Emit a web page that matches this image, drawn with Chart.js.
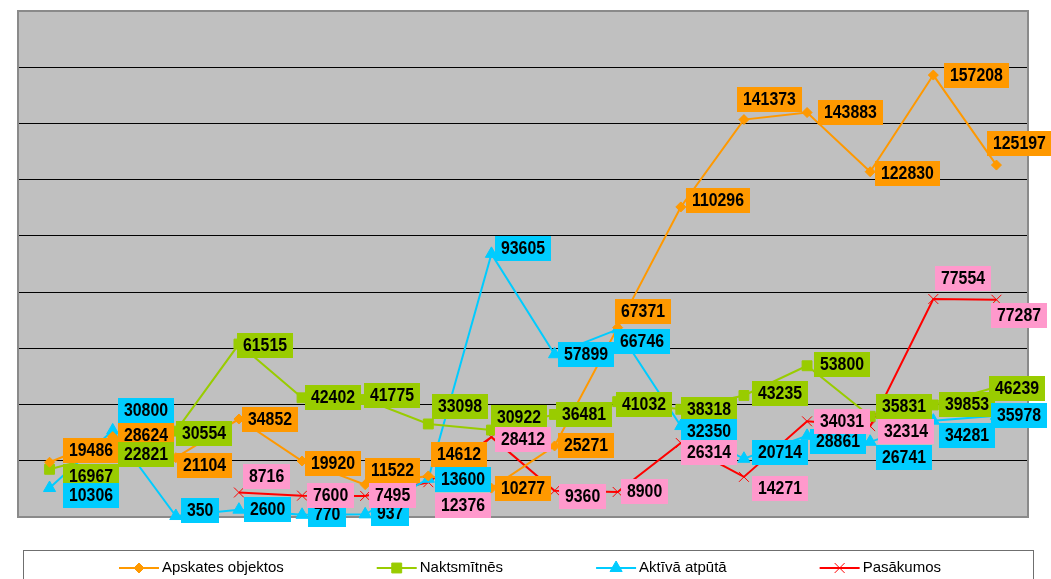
<!DOCTYPE html>
<html>
<head>
<meta charset="utf-8">
<script src="https://cdn.jsdelivr.net/npm/chart.js@4.4.1/dist/chart.umd.min.js"></script>
<style>
  html, body { margin: 0; padding: 0; background: #fff; overflow: hidden; }
</style>
</head>
<body>
<canvas id="chart" width="1051" height="579"></canvas>
<script>
// categories are not printed on the original chart
const periods = ["1", "2", "3", "4", "5", "6", "7", "8", "9", "10", "11", "12", "13", "14", "15", "16"];

const apskates = [19486, 28624, 21104, 34852, 19920, 11522, 14612, 10277, 25271, 67371, 110296, 141373, 143883, 122830, 157208, 125197];
const naktsmitnes = [16967, 22821, 30554, 61515, 42402, 41775, 33098, 30922, 36481, 41032, 38318, 43235, 53800, 35831, 39853, 46239];
const aktiva = [10306, 30800, 350, 2600, 770, 937, 13600, 93605, 57899, 66746, 32350, 20714, 28861, 26741, 34281, 35978];
const pasakumos = [null, null, null, 8716, 7600, 7495, 12376, 28412, 9360, 8900, 26314, 14271, 34031, 32314, 77554, 77287];

const seriesNames = ["Apskates objektos", "Naktsmītnēs", "Aktīvā atpūtā", "Pasākumos"];

// label box colours and hand-placed label nudges [dx from point, dy of box centre]
const labelColors = ["#FF9900", "#99CC00", "#00CCFF", "#FF99CC"];
const labelNudge = [
  [[13,-12],[5,-1],[1,8],[3,0],[3,2],[0,-14],[3,-21],[4,0],[3,0],[-3,-16],[5,-6],[-7,-20],[11,0],[5,2],[11,0],[-9,-22]],
  [[13,7],[5,2],[0,2],[-2,1],[3,0],[-1,-4],[4,-17],[0,-13],[1,0],[-2,3],[0,0],[8,-2],[7,-1],[6,-10],[6,0],[-7,1]],
  [[13,7],[5,-20],[5,-6],[5,0],[6,0],[6,-1],[7,1],[4,-5],[3,0],[-4,12],[0,5],[8,-6],[3,6],[6,16],[6,15],[-5,0]],
  [null,null,null,[4,-16],[5,0],[4,0],[7,23],[4,2],[4,6],[3,0],[0,9],[8,12],[7,0],[8,5],[2,-20],[-5,16]]
];

const plotBg = {
  id: "plotBg",
  beforeDraw(chart) {
    const a = chart.chartArea;
    const ctx = chart.ctx;
    ctx.save();
    ctx.fillStyle = "#fff";
    ctx.fillRect(0, 0, chart.width, chart.height);
    ctx.fillStyle = "#C0C0C0";
    ctx.fillRect(a.left, a.top, a.right - a.left, a.bottom - a.top);
    ctx.restore();
  },
  beforeDatasetsDraw(chart) {
    const a = chart.chartArea;
    const ctx = chart.ctx;
    ctx.save();
    ctx.strokeStyle = "#8a8a8a";
    ctx.lineWidth = 2;
    ctx.strokeRect(a.left, a.top, a.right - a.left, a.bottom - a.top);
    ctx.restore();
  }
};

// narrow-ish bold labels: 18px font squeezed horizontally
const squeeze = 0.88;

const valueLabels = {
  id: "valueLabels",
  afterDatasetsDraw(chart) {
    const ctx = chart.ctx;
    ctx.save();
    ctx.font = "bold 18px 'Liberation Sans', Arial, sans-serif";
    ctx.textBaseline = "middle";
    ctx.textAlign = "left";
    chart.data.datasets.forEach((ds, di) => {
      const meta = chart.getDatasetMeta(di);
      meta.data.forEach((pt, i) => {
        const v = ds.data[i];
        if (v == null) return;
        const txt = String(v);
        const tw = ctx.measureText(txt).width * squeeze;
        const w = Math.round(tw) + 12;
        const h = 25;
        const n = (labelNudge[di] && labelNudge[di][i]) || [4, 0];
        const x = Math.round(pt.x + n[0]);
        const y = Math.round(pt.y + n[1] - h / 2);
        ctx.fillStyle = labelColors[di];
        ctx.fillRect(x, y, w, h);
        ctx.fillStyle = "#000";
        ctx.save();
        ctx.translate(x + 6, y + h / 2 + 1);
        ctx.scale(squeeze, 1);
        ctx.fillText(txt, 0, 0);
        ctx.restore();
      });
    });
    ctx.restore();
  }
};

const boxLegend = {
  id: "boxLegend",
  afterDraw(chart) {
    const ctx = chart.ctx;
    ctx.save();
    ctx.strokeStyle = "#6f6f6f";
    ctx.lineWidth = 1;
    ctx.strokeRect(23.5, 550.5, 1010, 60);
    ctx.font = "15px 'Liberation Sans', Arial, sans-serif";
    ctx.textBaseline = "middle";
    const gap = 93;
    const widths = chart.data.datasets.map(d => 43 + ctx.measureText(d.label).width);
    const total = widths.reduce((s, w) => s + w, 0) + gap * (widths.length - 1);
    let x = (23 + 1033) / 2 - total / 2 + 2;
    const y = 568;
    chart.data.datasets.forEach((d, i) => {
      ctx.strokeStyle = d.borderColor;
      ctx.lineWidth = 2;
      ctx.beginPath();
      ctx.moveTo(x, y);
      ctx.lineTo(x + 40, y);
      ctx.stroke();
      ctx.fillStyle = d.pointBackgroundColor;
      ctx.strokeStyle = d.pointBorderColor;
      ctx.lineWidth = d.pointBorderWidth;
      Chart.helpers.drawPoint(ctx, {
        pointStyle: d.pointStyle,
        radius: d.pointRadius,
        borderWidth: d.pointBorderWidth
      }, x + 20, y);
      ctx.fillStyle = "#000";
      ctx.fillText(d.label, x + 43, y);
      x += widths[i] + gap;
    });
    ctx.restore();
  }
};

function series(label, data, color, style, radius) {
  return {
    label: label,
    data: data,
    borderColor: color,
    backgroundColor: color,
    borderWidth: 2,
    pointStyle: style,
    pointRadius: radius,
    pointHoverRadius: radius,
    pointBackgroundColor: color,
    pointBorderColor: color,
    pointBorderWidth: 1,
    tension: 0,
    spanGaps: false,
    clip: false
  };
}

new Chart(document.getElementById("chart"), {
  type: "line",
  data: {
    labels: periods,
    datasets: [
      series(seriesNames[0], apskates, "#FF9900", "rectRot", 5),
      series(seriesNames[1], naktsmitnes, "#99CC00", "rect", 7),
      series(seriesNames[2], aktiva, "#00CCFF", "triangle", 7),
      series(seriesNames[3], pasakumos, "#FF0000", "crossRot", 7)
    ]
  },
  options: {
    responsive: false,
    animation: false,
    devicePixelRatio: 1,
    layout: { padding: { left: 18, top: 11, right: 23, bottom: 62 } },
    plugins: {
      legend: { display: false },
      tooltip: { enabled: false }
    },
    scales: {
      x: { display: false, offset: true },
      y: {
        min: 0,
        max: 180000,
        ticks: { display: false, stepSize: 20000 },
        grid: { color: "#000", lineWidth: 1, drawTicks: false },
        border: { display: false }
      }
    }
  },
  plugins: [plotBg, valueLabels, boxLegend]
});
</script>
</body>
</html>
